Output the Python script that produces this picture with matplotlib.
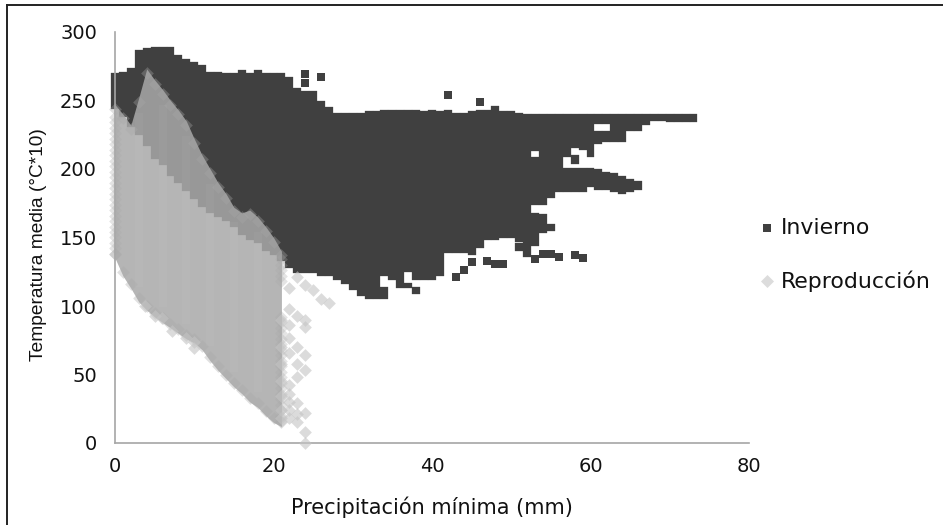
import numpy as np
import matplotlib
matplotlib.use('Agg')
import matplotlib.pyplot as plt
from matplotlib.lines import Line2D

plt.rcParams['font.family'] = ['DejaVu Sans']

# Invierno: one column per mm of precipitation, temperature from low to high
inv_x = list(range(74))
inv_hi = [270, 271, 274, 287, 288, 289, 289, 289, 283, 280,
          278, 276, 271, 271, 270, 270, 272, 270, 272, 270,
          270, 270, 267, 259, 257, 257, 250, 245, 241, 241,
          241, 241, 242, 242, 243, 243, 243, 243, 243, 242,
          243, 242, 243, 241, 241, 242, 243, 243, 246, 242,
          242, 241, 240, 240, 240, 240, 240, 240, 240, 240,
          240, 240, 240, 240, 240, 240, 240, 240, 240, 240,
          240, 240, 240, 240]
inv_lo = [244, 238, 231, 225, 217, 207, 203, 195, 190, 184,
          178, 172, 168, 165, 162, 158, 152, 148, 146, 140,
          137, 133, 128, 124, 124, 124, 122, 122, 119, 116,
          112, 107, 105, 105, 122, 119, 113, 125, 119, 119,
          119, 122, 139, 139, 139, 137, 142, 148, 148, 150,
          150, 147, 136, 213, 174, 179, 183, 209, 215, 214,
          209, 233, 233, 220, 220, 228, 228, 232, 235, 235,
          234, 234, 234, 234]

# columns that are split by a gap: the lower pieces
inv_ex_x = [34, 37, 38, 51, 53, 53, 54, 55, 57, 58, 58, 59, 60, 61, 61, 62, 62, 63, 64, 65, 66]
inv_ex_lo = [105, 113, 109, 140, 174, 144, 153, 155, 183, 204, 183, 183, 187, 218, 185, 220, 185, 183, 182, 183, 185]
inv_ex_hi = [114, 117, 114, 146, 209, 168, 167, 160, 201, 210, 201, 201, 201, 228, 200, 228, 198, 197, 195, 193, 191]

# loose squares
inv_sx = [24, 24, 26, 42, 46, 43, 44, 45, 47, 48, 49, 53, 54, 55, 56, 58, 59]
inv_st = [269, 263, 267, 254, 249, 121, 126, 132, 133, 131, 131, 134, 138, 138, 136, 137, 135]

# Reproduccion
rep_x = list(range(22))
rep_hi = [247, 240, 232, 252, 273, 265, 258, 250, 243, 235, 222,
          210, 200, 190, 182, 172, 168, 170, 165, 158, 150, 140]
rep_lo = [135, 122, 113, 103, 97, 92, 88, 84, 80, 76, 73,
          68, 60, 53, 47, 41, 36, 30, 26, 20, 15, 12]

# points along x=0 and x=21 that make the edges of the cloud
rep_col0 = [138, 142, 146, 150, 154, 158, 162, 166, 170, 174, 178, 182, 186, 190, 194,
            198, 202, 206, 210, 214, 218, 222, 226, 230, 234, 238]
rep_col21 = [16, 20, 24, 28, 32, 36, 40, 44, 48, 52, 56, 60, 64, 68, 72, 76, 80, 84, 88, 92,
             118, 122, 126, 130, 134]

# columns that look a little paler in the cloud
rep_pale = [3, 6, 9, 12, 15, 18]

rep_sx = [7.2, 5.1, 5.9, 9, 10, 10, 3.8, 22, 24, 25, 26, 27, 23, 22, 23, 24, 24, 22, 22, 23, 24,
          22, 23, 24, 23, 21, 22, 23, 24, 23, 24, 24, 21, 21, 21, 22, 22, 22, 23, 22, 21, 21, 21]
rep_st = [82, 93, 91, 77, 69, 74, 100, 113, 115, 112, 105, 102, 121, 98, 93, 90, 85, 86, 77, 70, 64,
          66, 58, 53, 48, 58, 36, 29, 22, 15, 8, 0, 34, 24, 18, 30, 24, 18, 21, 42, 45, 70, 90]

xticks = [0, 20, 40, 60, 80]
yticks = [0, 50, 100, 150, 200, 250, 300]

dark = '#404040'
rep_body = '#a8a8a8'
rep_point = '#dcdcdc'
text_col = '#111111'

fig = plt.figure(figsize=(9.43, 5.25), dpi=100)
ax = fig.add_axes([115 / 943, 82 / 525, 634 / 943, 411 / 525])

inv_hi = np.array(inv_hi)
inv_lo = np.array(inv_lo)
ax.bar(inv_x, inv_hi - inv_lo, bottom=inv_lo, width=1.0, color=dark, edgecolor=dark,
       linewidth=0.2, zorder=1, clip_on=False)
ax.bar(inv_ex_x, np.array(inv_ex_hi) - np.array(inv_ex_lo), bottom=inv_ex_lo, width=1.0,
       color=dark, edgecolor=dark, linewidth=0.2, zorder=1, clip_on=False)
ax.scatter(inv_sx, inv_st, marker='s', s=30, color=dark, linewidths=0, zorder=1, clip_on=False)

rep_hi = np.array(rep_hi)
rep_lo = np.array(rep_lo)
ax.fill_between(rep_x, rep_lo, rep_hi, color=rep_body, alpha=0.85, linewidth=0, zorder=3, clip_on=False)
ax.bar(rep_pale, (rep_hi - rep_lo)[rep_pale] - 22, bottom=rep_lo[rep_pale] + 11, width=1.0, color='white',
       alpha=0.03, linewidth=0, zorder=3.5)
ax.scatter(rep_x, rep_hi - 3, marker='D', s=42, color=rep_body, alpha=0.35, linewidths=0,
           zorder=3, clip_on=False)
ax.scatter(rep_x, rep_lo + 3, marker='D', s=42, color=rep_body, alpha=0.35, linewidths=0,
           zorder=3, clip_on=False)
ax.scatter([0] * len(rep_col0), rep_col0, marker='D', s=42, color=rep_body, alpha=0.3, linewidths=0,
           zorder=3, clip_on=False)
ax.scatter([21] * len(rep_col21), rep_col21, marker='D', s=42, color=rep_body, alpha=0.3, linewidths=0,
           zorder=3, clip_on=False)
ax.scatter(rep_sx, rep_st, marker='D', s=42, color='#c4c4c4', alpha=0.6, linewidths=0, zorder=3,
           clip_on=False)

ax.set_xlim(0, 80)
ax.set_ylim(0, 300)
ax.set_xticks(xticks)
ax.set_yticks(yticks)
ax.tick_params(axis='x', length=0, labelsize=14, pad=10, colors=text_col)
ax.tick_params(axis='y', length=0, labelsize=14, pad=13, colors=text_col)
for s in ['top', 'right']:
    ax.spines[s].set_visible(False)
for s in ['left', 'bottom']:
    ax.spines[s].set_color('#a6a6a6')
    ax.spines[s].set_linewidth(1.2)
    ax.spines[s].set_zorder(2)

ax.set_xlabel('Precipitación mínima (mm)', fontsize=15, color=text_col)
ax.xaxis.set_label_coords(0.5, -64 / 411, transform=ax.transAxes)
ax.xaxis.label.set_va('center')
ax.set_ylabel('Temperatura media (°C*10)', fontsize=13.8, color=text_col, family='Liberation Sans')
ax.yaxis.set_label_coords(-76 / 634, 198 / 411, transform=ax.transAxes)
ax.yaxis.label.set_va('center')

# legend
ax.scatter([82.3], [157], marker='s', s=33, color=dark, linewidths=0, clip_on=False)
ax.scatter([82.3], [118], marker='D', s=44, color=rep_point, linewidths=0, clip_on=False)
ax.text(84.0, 157, 'Invierno', fontsize=15.8, va='center', color=text_col)
ax.text(84.0, 118, 'Reproducción', fontsize=15.8, va='center', color=text_col)

# frame of the pasted image: only left and top show
fig.add_artist(Line2D([6.5 / 943, 6.5 / 943], [0, 1 - 5 / 525], color='#222222', linewidth=1.4))
fig.add_artist(Line2D([6.5 / 943, 1], [1 - 5 / 525, 1 - 5 / 525], color='#222222', linewidth=1.4))

fig.savefig('out.png', dpi=100)
